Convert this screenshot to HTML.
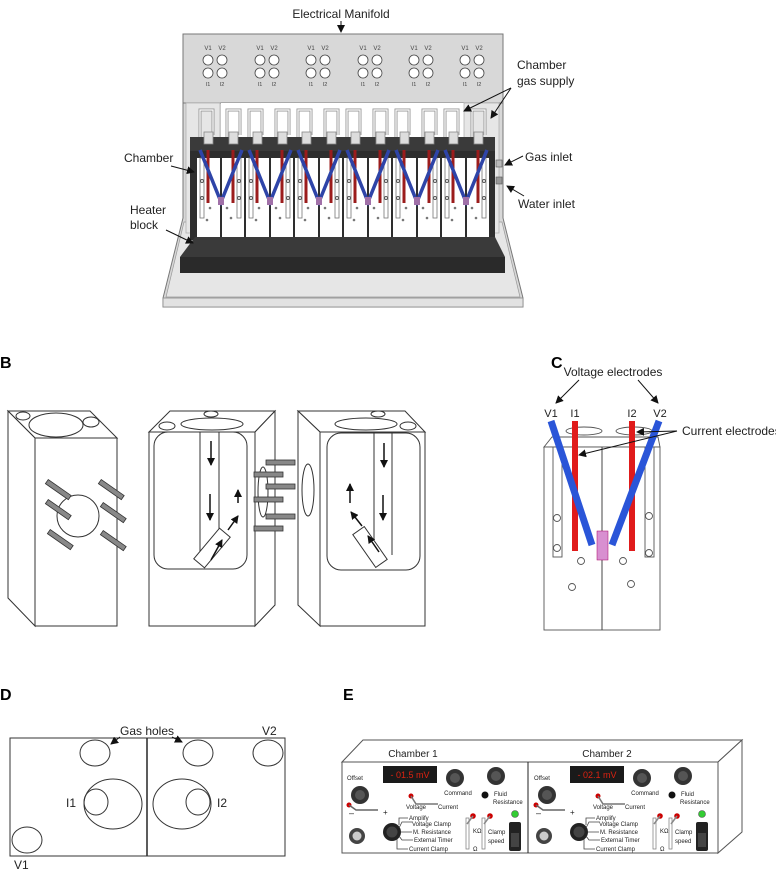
<!DOCTYPE html>
<html><head><meta charset="utf-8"><style>
html,body{margin:0;padding:0;background:#fff}
svg{display:block}
text{font-family:"Liberation Sans",sans-serif}
</style></head><body>
<svg width="776" height="872" viewBox="0 0 776 872" xmlns="http://www.w3.org/2000/svg">
<defs>
<marker id="ah" markerWidth="8" markerHeight="8" refX="7" refY="4" orient="auto" markerUnits="userSpaceOnUse"><path d="M0,0 L8,4 L0,8 z" fill="#111"/></marker>
<g id="pair">
  <rect x="0" y="8" width="23" height="79" fill="#fff"/>
  <rect x="25" y="8" width="22" height="79" fill="#fff"/>
  <rect x="3" y="8" width="4" height="60" fill="none" stroke="#777" stroke-width="0.8"/>
  <rect x="40" y="8" width="4" height="60" fill="none" stroke="#777" stroke-width="0.8"/>
  <circle cx="5" cy="31" r="1.5" fill="none" stroke="#555"/><circle cx="5" cy="48" r="1.5" fill="none" stroke="#555"/>
  <circle cx="42" cy="31" r="1.5" fill="none" stroke="#555"/><circle cx="42" cy="48" r="1.5" fill="none" stroke="#555"/>
  <circle cx="13" cy="58" r="1.3" fill="#777"/><circle cx="30" cy="58" r="1.3" fill="#777"/>
  <circle cx="10" cy="70" r="1.3" fill="#777"/><circle cx="34" cy="68" r="1.3" fill="#777"/>
  <line x1="11" y1="0" x2="11" y2="53" stroke="#9b1c1c" stroke-width="3"/>
  <line x1="36" y1="0" x2="36" y2="53" stroke="#9b1c1c" stroke-width="3"/>
  <polyline points="3,0 24,52 45,0" fill="none" stroke="#2e44a8" stroke-width="3.5"/>
  <rect x="21" y="47" width="6" height="8" fill="#a070a8"/>
</g>
<g id="tubes">
  <path d="M3,35 V5 H16 V30" fill="none" stroke="#999" stroke-width="3"/>
  <path d="M3,35 V5 H16 V30" fill="none" stroke="#fff" stroke-width="1.2"/>
  <path d="M30,35 V5 H43 V30" fill="none" stroke="#999" stroke-width="3"/>
  <path d="M30,35 V5 H43 V30" fill="none" stroke="#fff" stroke-width="1.2"/>
</g>
<g id="mgrp">
  <text x="-7" y="50" font-size="6" fill="#444" text-anchor="middle">V1</text>
  <text x="7" y="50" font-size="6" fill="#444" text-anchor="middle">V2</text>
  <circle cx="-7" cy="60" r="5" fill="#fff" stroke="#444" stroke-width="0.8"/>
  <circle cx="7" cy="60" r="5" fill="#fff" stroke="#444" stroke-width="0.8"/>
  <circle cx="-7" cy="73" r="5" fill="#fff" stroke="#444" stroke-width="0.8"/>
  <circle cx="7" cy="73" r="5" fill="#fff" stroke="#444" stroke-width="0.8"/>
  <text x="-7" y="86" font-size="5.5" fill="#444" text-anchor="middle">I1</text>
  <text x="7" y="86" font-size="5.5" fill="#444" text-anchor="middle">I2</text>
</g>
<g id="chE">
  <text x="13" y="780" font-size="6" fill="#222" text-anchor="middle">Offset</text>
  <circle cx="18" cy="795" r="9" fill="#333"/><circle cx="18" cy="795" r="5" fill="#555"/>
  <circle cx="7" cy="805" r="2.5" fill="#c00"/>
  <path d="M7,805 L14,810 H36" stroke="#666" fill="none" stroke-width="1.5"/>
  <text x="7" y="816" font-size="9" fill="#222">–</text><text x="41" y="815" font-size="8" fill="#222">+</text>
  <rect x="41" y="766" width="54" height="17" fill="#1a1a1a"/>
  <circle cx="113" cy="778" r="9" fill="#333"/><circle cx="113" cy="778" r="5" fill="#555"/>
  <text x="116" y="795" font-size="6" fill="#222" text-anchor="middle">Command</text>
  <circle cx="154" cy="776" r="9" fill="#333"/><circle cx="154" cy="776" r="5" fill="#555"/>
  <circle cx="143" cy="795" r="3.5" fill="#111"/>
  <text x="152" y="796" font-size="6" fill="#222">Fluid</text>
  <text x="151" y="804" font-size="6" fill="#222">Resistance</text>
  <circle cx="69" cy="796" r="2.5" fill="#c00"/>
  <path d="M69,796 L74,804 H96" stroke="#777" fill="none" stroke-width="1.5"/>
  <text x="64" y="809" font-size="6" fill="#222">Voltage</text>
  <text x="96" y="809" font-size="6" fill="#222">Current</text>
  <circle cx="15" cy="836" r="8" fill="#444"/><circle cx="15" cy="836" r="4.5" fill="#ccc"/>
  <circle cx="50" cy="832" r="9" fill="#222"/><circle cx="50" cy="832" r="5.5" fill="#444"/>
  <path d="M57,825 V818 H66 M57,828 L60,822 H70 M59,832 H70 M57,836 L60,840 H71 M55,839 V849 H66" stroke="#444" fill="none" stroke-width="0.8"/>
  <text x="67" y="820" font-size="6" fill="#222">Amplify</text>
  <text x="70" y="826" font-size="6" fill="#222">Voltage Clamp</text>
  <text x="71" y="834" font-size="6" fill="#222">M. Resistance</text>
  <text x="72" y="842" font-size="6" fill="#222">External Timer</text>
  <text x="67" y="851" font-size="6" fill="#222">Current Clamp</text>
  <rect x="124" y="818" width="3" height="31" fill="#fff" stroke="#777" stroke-width="0.7"/>
  <circle cx="131" cy="816" r="2.8" fill="#c00"/><line x1="131" y1="816" x2="125" y2="824" stroke="#888" stroke-width="1.5"/>
  <text x="131" y="833" font-size="6" fill="#222">KΩ</text><text x="131" y="851" font-size="6" fill="#222">Ω</text>
  <rect x="140" y="818" width="3" height="31" fill="#fff" stroke="#777" stroke-width="0.7"/>
  <circle cx="148" cy="816" r="2.8" fill="#c00"/><line x1="148" y1="816" x2="142" y2="824" stroke="#888" stroke-width="1.5"/>
  <text x="146" y="834" font-size="6" fill="#222">Clamp</text><text x="146" y="843" font-size="6" fill="#222">speed</text>
  <circle cx="173" cy="814" r="3.5" fill="#3c3" stroke="#555" stroke-width="0.6"/>
  <rect x="167" y="822" width="12" height="29" rx="2" fill="#222"/><rect x="169" y="833" width="8" height="14" fill="#444"/>
</g>
</defs>

<!-- ===== Panel A ===== -->
<text x="341" y="18" font-size="12" text-anchor="middle" fill="#222">Electrical Manifold</text>
<line x1="341" y1="21" x2="341" y2="32" stroke="#111" stroke-width="1" marker-end="url(#ah)"/>
<path d="M183,34 H503 V218 L523,298 V307 H163 V298 L183,218 Z" fill="#d8d8d8" stroke="#777" stroke-width="1"/>
<path d="M184,222 L166,297 H520 L502,222 Z" fill="#e6e6e6" stroke="#999" stroke-width="0.7"/>
<rect x="163" y="298" width="360" height="9" fill="#e2e2e2" stroke="#888" stroke-width="0.8"/>
<rect x="183" y="34" width="320" height="69" fill="#d8d8d8" stroke="#777" stroke-width="1"/>
<rect x="221" y="103" width="243" height="40" fill="#fff"/>
<rect x="186" y="103" width="34" height="130" fill="#e6e6e6" stroke="#aaa" stroke-width="0.7"/>
<rect x="464" y="103" width="35" height="130" fill="#e6e6e6" stroke="#aaa" stroke-width="0.7"/>
<use href="#mgrp" x="215" y="0"/><use href="#mgrp" x="267" y="0"/><use href="#mgrp" x="318" y="0"/>
<use href="#mgrp" x="370" y="0"/><use href="#mgrp" x="421" y="0"/><use href="#mgrp" x="472" y="0"/>
<use href="#tubes" x="197" y="105"/><use href="#tubes" x="246" y="105"/><use href="#tubes" x="295" y="105"/>
<use href="#tubes" x="344" y="105"/><use href="#tubes" x="393" y="105"/><use href="#tubes" x="442" y="105"/>
<rect x="190" y="137" width="305" height="103" fill="#2e2e2e"/>
<rect x="190" y="137" width="305" height="14" fill="#3a3a3a"/>
<g fill="#ddd" stroke="#888" stroke-width="0.8">
<rect x="204" y="132" width="9" height="12"/><rect x="229" y="132" width="9" height="12"/>
<rect x="253" y="132" width="9" height="12"/><rect x="278" y="132" width="9" height="12"/>
<rect x="302" y="132" width="9" height="12"/><rect x="327" y="132" width="9" height="12"/>
<rect x="351" y="132" width="9" height="12"/><rect x="376" y="132" width="9" height="12"/>
<rect x="400" y="132" width="9" height="12"/><rect x="425" y="132" width="9" height="12"/>
<rect x="449" y="132" width="9" height="12"/><rect x="474" y="132" width="9" height="12"/>
</g>
<use href="#pair" x="197" y="150"/><use href="#pair" x="246" y="150"/><use href="#pair" x="295" y="150"/>
<use href="#pair" x="344" y="150"/><use href="#pair" x="393" y="150"/><use href="#pair" x="442" y="150"/>
<rect x="496" y="160" width="6" height="7" fill="#bbb" stroke="#555" stroke-width="0.6"/>
<rect x="496" y="177" width="6" height="7" fill="#999" stroke="#555" stroke-width="0.6"/>
<path d="M195,237 H495 L505,257 H180 Z" fill="#3a3a3a"/>
<rect x="180" y="257" width="325" height="16" fill="#2a2a2a"/>
<text x="124" y="162" font-size="12" fill="#222">Chamber</text>
<line x1="171" y1="166" x2="194" y2="172" stroke="#111" marker-end="url(#ah)"/>
<text x="130" y="214" font-size="12" fill="#222">Heater</text>
<text x="130" y="229" font-size="12" fill="#222">block</text>
<line x1="166" y1="230" x2="193" y2="243" stroke="#111" marker-end="url(#ah)"/>
<text x="517" y="69" font-size="12" fill="#222">Chamber</text>
<text x="517" y="85" font-size="12" fill="#222">gas supply</text>
<line x1="511" y1="88" x2="464" y2="111" stroke="#111" marker-end="url(#ah)"/>
<line x1="511" y1="88" x2="491" y2="118" stroke="#111" marker-end="url(#ah)"/>
<text x="525" y="161" font-size="12" fill="#222">Gas inlet</text>
<line x1="523" y1="156" x2="505" y2="165" stroke="#111" marker-end="url(#ah)"/>
<text x="518" y="208" font-size="12" fill="#222">Water inlet</text>
<line x1="524" y1="196" x2="507" y2="186" stroke="#111" marker-end="url(#ah)"/>

<!-- ===== Panel B ===== -->
<text x="0" y="368" font-size="16" font-weight="bold">B</text>
<g fill="#fff" stroke="#333" stroke-width="1">
<path d="M8,411 H90 L117,438 H35 Z"/>
<path d="M8,411 L35,438 V626 L8,598 Z"/>
<rect x="35" y="438" width="82" height="188"/>
<ellipse cx="56" cy="425" rx="27" ry="12"/>
<ellipse cx="23" cy="416" rx="7" ry="4"/><ellipse cx="91" cy="422" rx="8" ry="5"/>
<circle cx="78" cy="516" r="21"/>
<path d="M149,432 L170,411 H275 L255,432 Z"/>
<path d="M255,432 L275,411 V605 L255,626 Z"/>
<rect x="149" y="432" width="106" height="194"/>
<ellipse cx="212" cy="424" rx="31" ry="6"/><ellipse cx="167" cy="426" rx="8" ry="4"/><ellipse cx="211" cy="414" rx="7" ry="3"/>
<rect x="154" y="432" width="93" height="137" rx="14"/>
<path d="M200,432 V555 M219,432 V530" fill="none"/>
<path d="M298,411 H405 L425,432 H320 Z"/>
<path d="M298,411 L320,432 V626 L298,605 Z"/>
<rect x="320" y="432" width="105" height="194"/>
<ellipse cx="366" cy="424" rx="31" ry="6"/><ellipse cx="408" cy="426" rx="8" ry="4"/><ellipse cx="378" cy="414" rx="7" ry="3"/>
<rect x="327" y="433" width="93" height="137" rx="14"/>
<path d="M374,433 V540 M392,433 V555" fill="none"/>
<ellipse cx="263" cy="492" rx="5" ry="25"/>
<ellipse cx="308" cy="490" rx="6" ry="26"/>
</g>
<g fill="#888" stroke="#333" stroke-width="0.8">
<rect x="44" y="487" width="28" height="5" transform="rotate(35 58 490)"/>
<rect x="44" y="507" width="28" height="5" transform="rotate(35 58 510)"/>
<rect x="46" y="537" width="28" height="5" transform="rotate(35 60 540)"/>
<rect x="97" y="487" width="28" height="5" transform="rotate(35 111 490)"/>
<rect x="99" y="510" width="28" height="5" transform="rotate(35 113 513)"/>
<rect x="99" y="538" width="28" height="5" transform="rotate(35 113 541)"/>
<rect x="266" y="460" width="29" height="5"/><rect x="254" y="472" width="29" height="5"/>
<rect x="266" y="484" width="29" height="5"/><rect x="254" y="497" width="29" height="5"/>
<rect x="266" y="514" width="29" height="5"/><rect x="254" y="526" width="29" height="5"/>
</g>
<g fill="#fff" stroke="#333" stroke-width="1">
<rect x="205" y="528" width="14" height="40" transform="rotate(40 212 548)"/>
<rect x="363" y="527" width="14" height="40" transform="rotate(-35 370 547)"/>
</g>
<g stroke="#111" stroke-width="1.5" marker-end="url(#ah)">
<line x1="211" y1="441" x2="211" y2="465"/><line x1="210" y1="494" x2="210" y2="520"/>
<line x1="238" y1="503" x2="238" y2="490"/>
<line x1="211" y1="560" x2="222" y2="540"/><line x1="228" y1="530" x2="238" y2="516"/>
<line x1="384" y1="443" x2="384" y2="467"/><line x1="383" y1="495" x2="383" y2="520"/>
<line x1="350" y1="503" x2="350" y2="484"/>
<line x1="379" y1="552" x2="368" y2="536"/><line x1="362" y1="526" x2="351" y2="512"/>
</g>

<!-- ===== Panel C ===== -->
<text x="551" y="368" font-size="16" font-weight="bold">C</text>
<text x="613" y="376" font-size="12" text-anchor="middle" fill="#222">Voltage electrodes</text>
<line x1="579" y1="380" x2="556" y2="403" stroke="#111" marker-end="url(#ah)"/>
<line x1="638" y1="380" x2="658" y2="403" stroke="#111" marker-end="url(#ah)"/>
<text x="551" y="417" font-size="11" text-anchor="middle" fill="#222">V1</text>
<text x="575" y="417" font-size="11" text-anchor="middle" fill="#222">I1</text>
<text x="632" y="417" font-size="11" text-anchor="middle" fill="#222">I2</text>
<text x="660" y="417" font-size="11" text-anchor="middle" fill="#222">V2</text>
<g fill="#fff" stroke="#555" stroke-width="0.9">
<path d="M544,447 L552,437 H658 L660,447 Z"/>
<rect x="544" y="447" width="116" height="183"/>
<ellipse cx="584" cy="431" rx="18" ry="4"/><ellipse cx="634" cy="431" rx="18" ry="4"/>
<rect x="553" y="447" width="9" height="110"/><rect x="645" y="447" width="9" height="110"/>
<circle cx="557" cy="518" r="3.5"/><circle cx="557" cy="548" r="3.5"/>
<circle cx="649" cy="516" r="3.5"/><circle cx="649" cy="553" r="3.5"/>
<circle cx="581" cy="561" r="3.5"/><circle cx="572" cy="587" r="3.5"/>
<circle cx="623" cy="561" r="3.5"/><circle cx="631" cy="584" r="3.5"/>
</g>
<line x1="602" y1="447" x2="602" y2="630" stroke="#444" stroke-width="1"/>
<rect x="572" y="421" width="6" height="130" fill="#e01b1b"/>
<rect x="629" y="421" width="6" height="130" fill="#e01b1b"/>
<line x1="551" y1="421" x2="592" y2="545" stroke="#2a55d8" stroke-width="7"/>
<line x1="659" y1="421" x2="612" y2="545" stroke="#2a55d8" stroke-width="7"/>
<rect x="597" y="531" width="11" height="29" fill="#d88fd0" stroke="#a06" stroke-width="0.5"/>
<text x="682" y="435" font-size="12" fill="#222">Current electrodes</text>
<line x1="677" y1="431" x2="637" y2="432" stroke="#111" marker-end="url(#ah)"/>
<line x1="677" y1="431" x2="579" y2="455" stroke="#111" marker-end="url(#ah)"/>

<!-- ===== Panel D ===== -->
<text x="0" y="700" font-size="16" font-weight="bold">D</text>
<g fill="none" stroke="#333" stroke-width="1">
<rect x="10" y="738" width="275" height="118"/>
<line x1="147" y1="738" x2="147" y2="856" stroke-width="1.6"/>
<ellipse cx="95" cy="753" rx="15" ry="13"/><ellipse cx="198" cy="753" rx="15" ry="13"/>
<ellipse cx="268" cy="753" rx="15" ry="13"/>
<ellipse cx="113" cy="804" rx="29" ry="25"/><ellipse cx="96" cy="802" rx="12" ry="13"/>
<ellipse cx="182" cy="804" rx="29" ry="25"/><ellipse cx="198" cy="802" rx="12" ry="13"/>
<ellipse cx="27" cy="840" rx="15" ry="13"/>
</g>
<text x="147" y="735" font-size="12" text-anchor="middle" fill="#222">Gas holes</text>
<line x1="120" y1="737" x2="111" y2="744" stroke="#111" marker-end="url(#ah)"/>
<line x1="172" y1="737" x2="182" y2="742" stroke="#111" marker-end="url(#ah)"/>
<text x="262" y="735" font-size="12" fill="#222">V2</text>
<text x="66" y="807" font-size="12" fill="#222">I1</text>
<text x="217" y="807" font-size="12" fill="#222">I2</text>
<text x="14" y="869" font-size="12" fill="#222">V1</text>

<!-- ===== Panel E ===== -->
<text x="343" y="700" font-size="16" font-weight="bold">E</text>
<g fill="#fff" stroke="#555" stroke-width="1">
<path d="M342,762 L363,740 H742 L718,762 Z"/>
<path d="M718,762 L742,740 V832 L718,853 Z"/>
<rect x="342" y="762" width="376" height="91"/>
</g>
<line x1="528" y1="762" x2="528" y2="853" stroke="#222" stroke-width="1"/>
<use href="#chE" x="342" y="0"/>
<use href="#chE" x="529" y="0"/>
<text x="413" y="757" font-size="10" fill="#222" text-anchor="middle">Chamber 1</text>
<text x="607" y="757" font-size="10" fill="#222" text-anchor="middle">Chamber 2</text>
<text x="410" y="778" font-size="9" fill="#d21" text-anchor="middle">- 01.5 mV</text>
<text x="597" y="778" font-size="9" fill="#d21" text-anchor="middle">- 02.1 mV</text>
</svg>
</body></html>
